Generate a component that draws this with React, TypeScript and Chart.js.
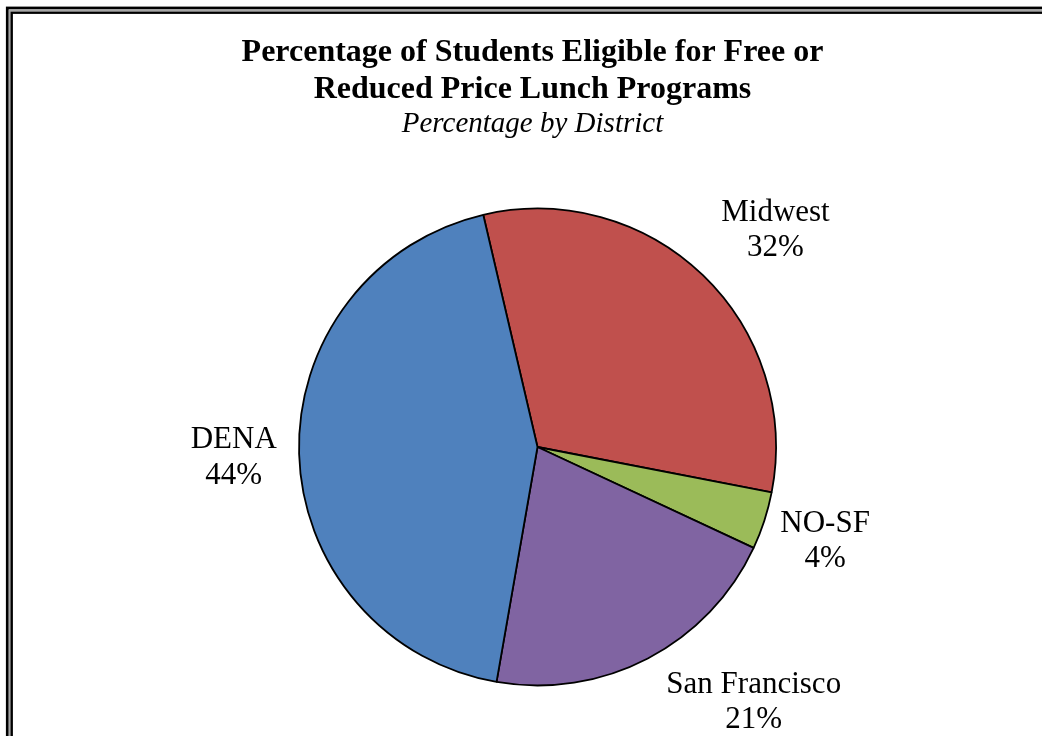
import React, { useEffect, useRef } from "react";
import { Chart, registerables } from "chart.js";

Chart.register(...registerables);

const categories = ["Midwest", "NO-SF", "San Francisco", "DENA"];
const shares = [31.7, 3.9, 20.8, 43.6];
const sliceColors = ["#C0504D", "#9BBB59", "#8064A2", "#4F81BD"];
const titleLines = ["Percentage of Students Eligible for Free or", "Reduced Price Lunch Programs"];
const subtitleText = "Percentage by District";

const SERIF = '"Times New Roman", "Liberation Serif", serif';

const framePlugin = {
  id: "frame",
  beforeDraw(chart: any) {
    const { ctx, width, height } = chart;
    ctx.save();
    ctx.fillStyle = "#ffffff";
    ctx.fillRect(0, 0, width, height);
    ctx.lineJoin = "miter";
    ctx.strokeStyle = "#000000";
    ctx.lineWidth = 2.8;
    ctx.strokeRect(7.3, 8, width + 20, height + 20);
    ctx.strokeStyle = "#a6a6a6";
    ctx.lineWidth = 1.8;
    ctx.strokeRect(9.7, 10.3, width + 20, height + 20);
    ctx.strokeStyle = "#000000";
    ctx.lineWidth = 2.4;
    ctx.strokeRect(11.7, 12.7, width + 20, height + 20);
    ctx.restore();
  },
};

const titlePlugin = {
  id: "titles",
  afterDraw(chart: any) {
    const { ctx } = chart;
    const cx = chart.chartArea.left + (chart.chartArea.right - chart.chartArea.left) / 2;
    ctx.save();
    ctx.fillStyle = "#000000";
    ctx.textAlign = "center";
    ctx.textBaseline = "alphabetic";
    ctx.font = `bold 32px ${SERIF}`;
    ctx.fillText(titleLines[0], cx - 5, 61);
    ctx.fillText(titleLines[1], cx - 5, 97.5);
    ctx.font = `italic 29px ${SERIF}`;
    ctx.fillText(subtitleText, cx - 5, 132);
    ctx.restore();
  },
};

const labelPlugin = {
  id: "sliceLabels",
  afterDatasetsDraw(chart: any, _args: any, opts: any) {
    const { ctx } = chart;
    const meta = chart.getDatasetMeta(0);
    const data = chart.data.datasets[0].data as number[];
    const total = data.reduce((a, b) => a + b, 0);
    ctx.save();
    ctx.fillStyle = "#000000";
    ctx.textAlign = "center";
    ctx.textBaseline = "alphabetic";
    ctx.font = `31px ${SERIF}`;
    meta.data.forEach((arc: any, i: number) => {
      const place = opts.placement[i];
      const a = (place.angle * Math.PI) / 180;
      const d = arc.outerRadius * place.dist;
      const x = arc.x + Math.sin(a) * d;
      const y = arc.y - Math.cos(a) * d;
      const pct = Math.round((data[i] / total) * 100) + "%";
      ctx.fillText(chart.data.labels[i], x, y - 17.75);
      ctx.fillText(pct, x, y + 17.75);
    });
    ctx.restore();
  },
};

export default function App() {
  const ref = useRef<HTMLCanvasElement | null>(null);
  useEffect(() => {
    document.body.style.margin = "0";
    const chart = new Chart(ref.current as HTMLCanvasElement, {
      type: "pie",
      data: {
        labels: categories,
        datasets: [
          {
            data: shares,
            backgroundColor: sliceColors,
            borderColor: "#000000",
            borderWidth: 1.8,
          },
        ],
      },
      options: {
        animation: false,
        responsive: false,
        rotation: -13.15,
        radius: 238.5,
        layout: { padding: { left: 60, right: 27, top: 200, bottom: 42 } },
        plugins: {
          legend: { display: false },
          title: { display: false },
          tooltip: { enabled: false },
          sliceLabels: {
            placement: [
              { angle: 48.75, dist: 1.327 },
              { angle: 109.6, dist: 1.28 },
              { angle: 140.65, dist: 1.43 },
              { angle: 266.45, dist: 1.276 },
            ],
          },
        } as any,
      },
      plugins: [framePlugin, titlePlugin, labelPlugin],
    });
    return () => chart.destroy();
  }, []);
  return (
    <div style={{ width: 1042, height: 736 }}>
      <canvas ref={ref} width={1042} height={736} style={{ display: "block" }} />
    </div>
  );
}
